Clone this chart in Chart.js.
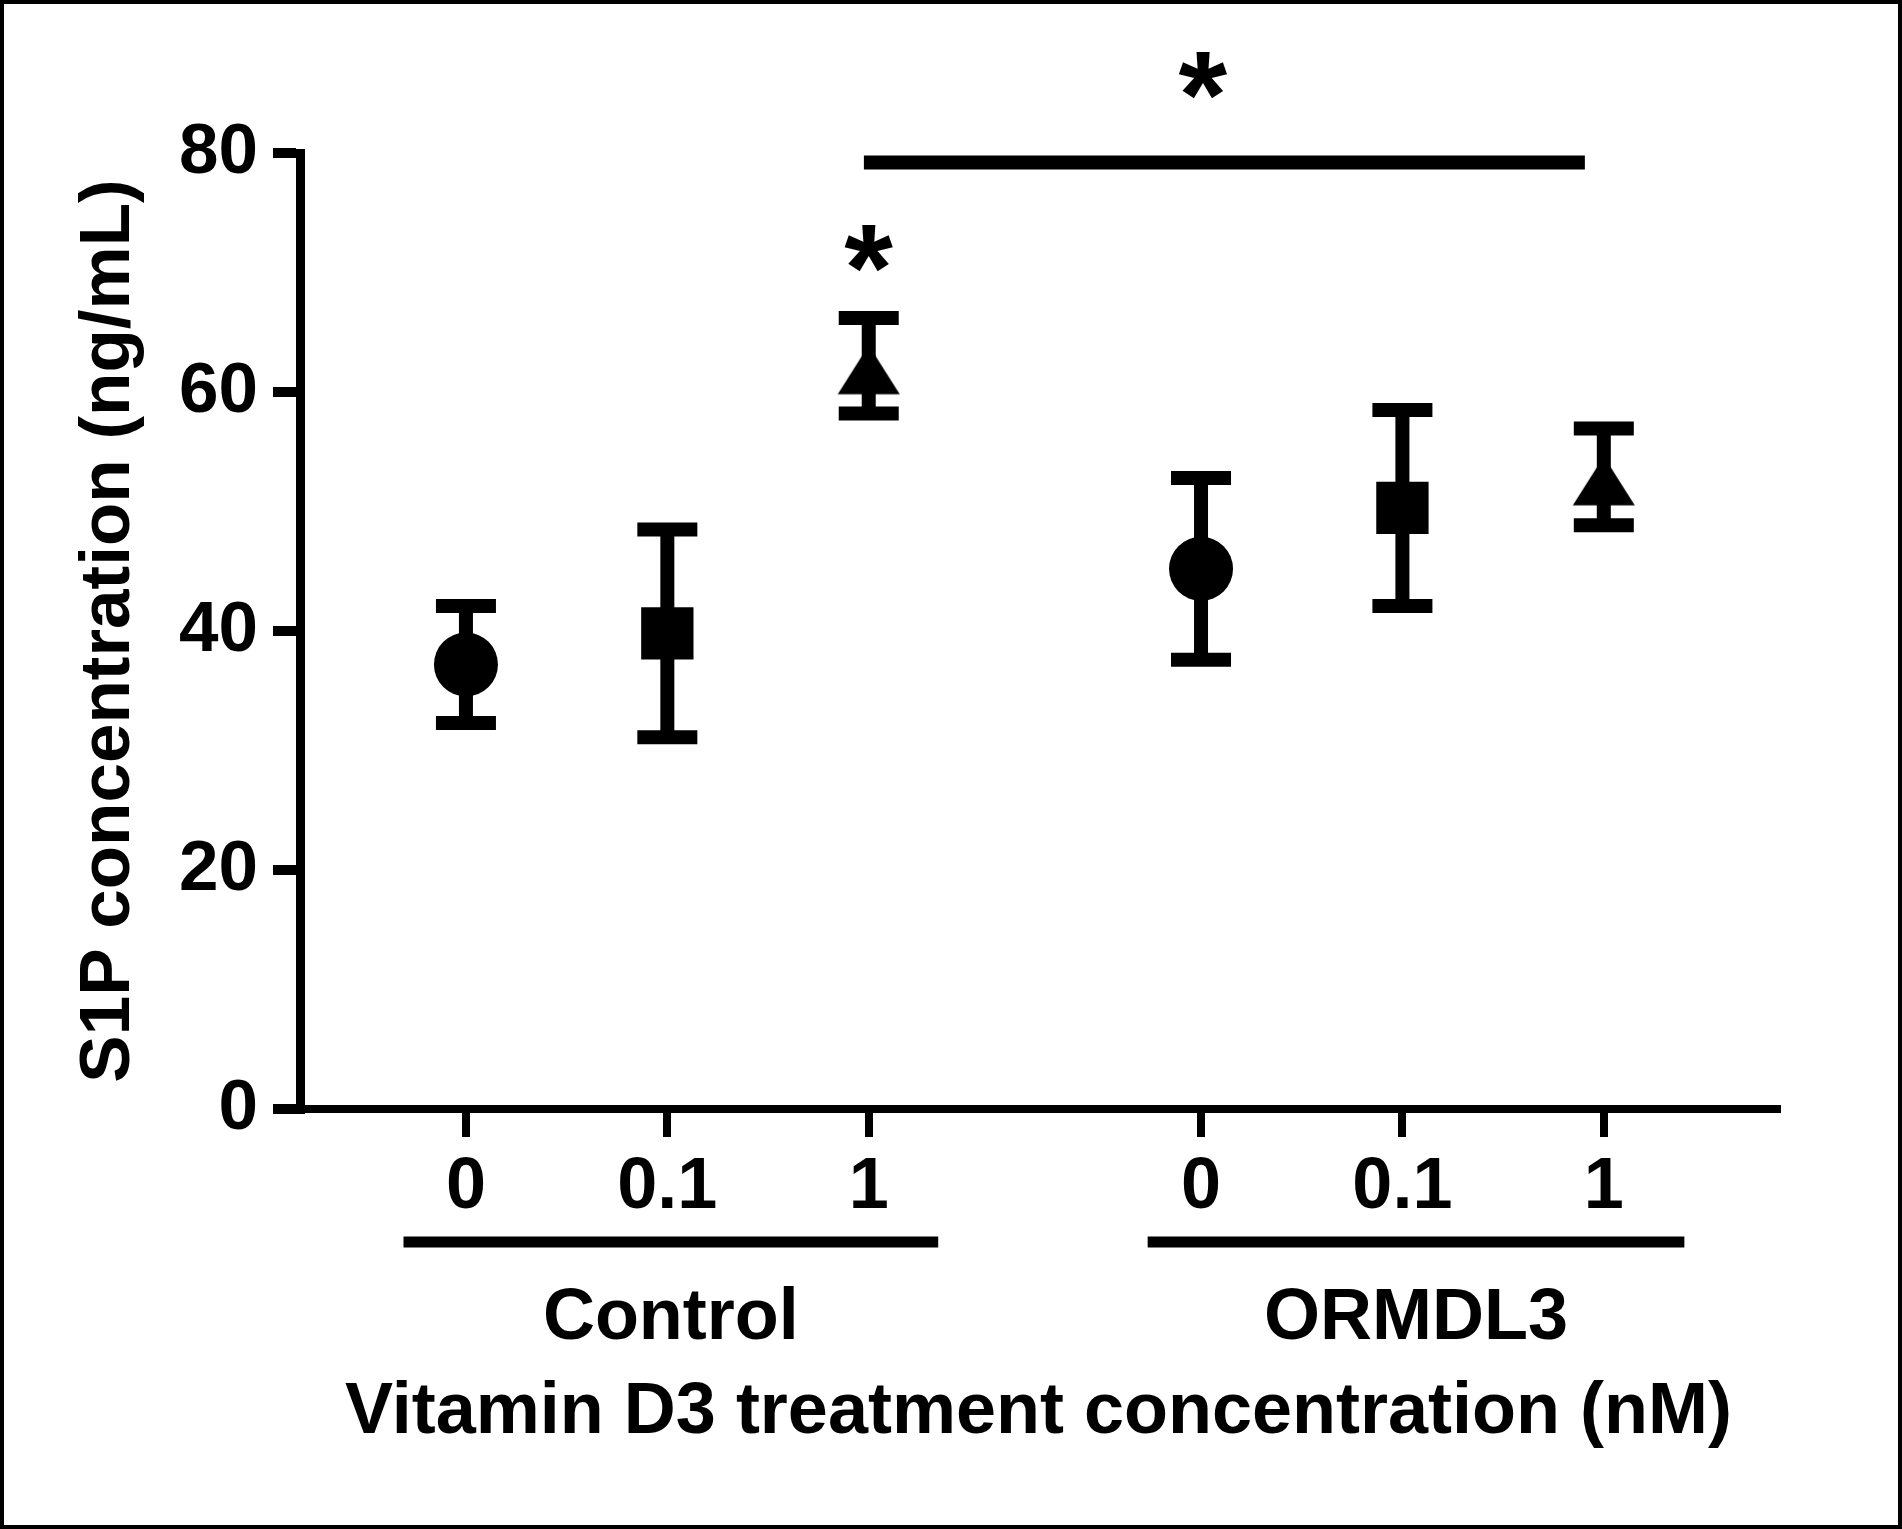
<!DOCTYPE html>
<html lang="en">
<head>
    <meta charset="UTF-8">
    <title>S1P concentration</title>
    <script src="https://cdn.jsdelivr.net/npm/chart.js"></script>
    <style>
        html, body { margin: 0; padding: 0; background: #fff; overflow: hidden; }
        .quadro { position: relative; width: 1902px; height: 1529px; background: #fff; }
        .moldura { position: absolute; left: 0; top: 0; right: 0; bottom: 0; border: 4px solid #000; box-sizing: border-box; pointer-events: none; }
    </style>
</head>
<body>
    <div class="quadro">
        <canvas id="graficoS1P"></canvas>
        <div class="moldura"></div>
    </div>
<script>
// dados
const doseLabels = ['0', '0.1', '1'];
const groupNames = ['Control', 'ORMDL3'];
const xPositions = [1, 2, 3, 4.65, 5.65, 6.65];
const meanS1P = [37.2, 39.8, 62.2, 45.2, 50.3, 52.9];
const semS1P = [4.9, 8.7, 4.0, 7.6, 8.2, 4.05];
const yTicks = [0, 20, 40, 60, 80];
const sigBar = { x1: 2.976, x2: 6.556, y: 79.2 };
const stars = [{ x: 3, y: 72.0 }, { x: 4.66, y: 86.5 }];

const fonte = "'Liberation Sans', Arial, sans-serif";
const linhaEsq = [0.31, 0.265];
const linhaDir = [0.345, 0.40];

// triangulo do GraphPad (base mais larga que o do Chart.js)
function criaTriangulo() {
    var c = document.createElement('canvas');
    c.width = 70; c.height = 70;
    var g = c.getContext('2d');
    g.fillStyle = '#000';
    g.beginPath();
    g.moveTo(35, 14.5);
    g.lineTo(66, 63.5);
    g.lineTo(4, 63.5);
    g.closePath();
    g.fill();
    return c;
}
const tri = criaTriangulo();
const estilos = ['circle', 'rect', tri, 'circle', 'rect', tri];
const raios = [32, 37, 30, 32, 37, 30];

function textoCentrado(ctx, txt, x, y) {
    var m = ctx.measureText(txt);
    var w = m.actualBoundingBoxRight + m.actualBoundingBoxLeft;
    var h = m.actualBoundingBoxAscent + m.actualBoundingBoxDescent;
    ctx.fillText(txt, x - w / 2 + m.actualBoundingBoxLeft, y - h / 2 + m.actualBoundingBoxAscent);
}

const extras = {
    id: 'extras',
    afterDatasetsDraw(chart) {
        const ctx = chart.ctx;
        const x = chart.scales.x, y = chart.scales.y;
        ctx.save();
        ctx.strokeStyle = '#000';
        ctx.lineCap = 'butt';
        ctx.lineWidth = 14;
        for (var i = 0; i < xPositions.length; i++) {
            var px = x.getPixelForValue(xPositions[i]);
            var top = y.getPixelForValue(meanS1P[i] + semS1P[i]);
            var bot = y.getPixelForValue(meanS1P[i] - semS1P[i]);
            ctx.beginPath();
            ctx.moveTo(px, top); ctx.lineTo(px, bot);
            ctx.moveTo(px - 30, top); ctx.lineTo(px + 30, top);
            ctx.moveTo(px - 30, bot); ctx.lineTo(px + 30, bot);
            ctx.stroke();
        }
        ctx.restore();
    },
    afterDraw(chart) {
        const ctx = chart.ctx;
        const x = chart.scales.x, y = chart.scales.y;
        const area = chart.chartArea;
        ctx.save();
        ctx.strokeStyle = '#000';
        ctx.fillStyle = '#000';

        // barra de significancia
        ctx.lineWidth = 14;
        ctx.beginPath();
        ctx.moveTo(x.getPixelForValue(sigBar.x1), y.getPixelForValue(sigBar.y));
        ctx.lineTo(x.getPixelForValue(sigBar.x2), y.getPixelForValue(sigBar.y));
        ctx.stroke();

        ctx.font = 'bold 125px ' + fonte;
        stars.forEach(s => textoCentrado(ctx, '*', x.getPixelForValue(s.x), y.getPixelForValue(s.y)));

        // linhas e nomes dos grupos
        ctx.lineWidth = 11;
        ctx.font = 'bold 72px ' + fonte;
        ctx.textAlign = 'center';
        ctx.textBaseline = 'middle';
        for (var g = 0; g < groupNames.length; g++) {
            var x1 = x.getPixelForValue(xPositions[g * 3] - linhaEsq[g]);
            var x2 = x.getPixelForValue(xPositions[g * 3 + 2] + linhaDir[g]);
            ctx.beginPath();
            ctx.moveTo(x1, area.bottom + 133);
            ctx.lineTo(x2, area.bottom + 133);
            ctx.stroke();
            ctx.fillText(groupNames[g], (x1 + x2) / 2, area.bottom + 210);
        }
        ctx.restore();
    }
};

const ctxS1P = document.getElementById('graficoS1P');

var grafico = new Chart(ctxS1P, {
    type: 'scatter',
    data: {
        datasets: [{
            label: 'S1P',
            data: xPositions.map((v, i) => ({ x: v, y: meanS1P[i] })),
            pointStyle: estilos,
            pointRadius: raios,
            pointHoverRadius: raios,
            pointBackgroundColor: '#000',
            pointBorderColor: '#000',
            pointBorderWidth: 0,
            showLine: false
        }]
    },
    options: {
        responsive: true,
        maintainAspectRatio: false,
        animation: false,
        events: [],
        layout: { padding: { top: 153, right: 125, bottom: 73, left: 0 } },
        plugins: {
            legend: { display: false },
            tooltip: { enabled: false }
        },
        scales: {
            x: {
                type: 'linear',
                min: 0.176,
                max: 7.51,
                afterBuildTicks: s => { s.ticks = xPositions.map(v => ({ value: v })); },
                afterFit: s => { s.height = 347; },
                ticks: {
                    autoSkip: false,
                    maxRotation: 0,
                    padding: 8,
                    color: '#000',
                    font: { family: fonte, size: 72, weight: 'bold' },
                    callback: (v, i) => doseLabels[i % doseLabels.length]
                },
                grid: { display: true, drawOnChartArea: false, drawTicks: true, tickLength: 28, tickWidth: 8, lineWidth: 8, color: '#000', tickColor: '#000' },
                border: { display: true, width: 8, color: '#000' },
                title: {
                    display: true,
                    text: 'Vitamin D3 treatment concentration (nM)',
                    color: '#000',
                    font: { family: fonte, size: 72, weight: 'bold' },
                    padding: { top: 0, bottom: 0 }
                }
            },
            y: {
                min: 0,
                max: 80,
                afterBuildTicks: s => { s.ticks = yTicks.map(v => ({ value: v })); },
                afterFit: s => { s.width = 300; },
                ticks: {
                    padding: 15,
                    color: '#000',
                    font: { family: fonte, size: 71, weight: 'bold' }
                },
                grid: { display: true, drawOnChartArea: false, drawTicks: true, tickLength: 27, tickWidth: 10, lineWidth: 10, color: '#000', tickColor: '#000' },
                border: { display: true, width: 9, color: '#000' },
                title: {
                    display: true,
                    text: 'S1P concentration (ng/mL)',
                    color: '#000',
                    font: { family: fonte, size: 71, weight: 'bold' },
                    padding: { top: 67, bottom: 0 }
                }
            }
        }
    },
    plugins: [extras]
});
</script>
</body>
</html>
